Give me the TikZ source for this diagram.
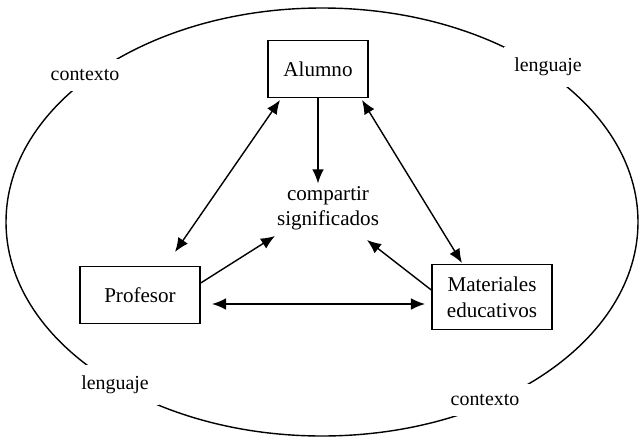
\documentclass[tikz,border=0pt]{standalone}
\usepackage{fontspec}
\setmainfont{Liberation Serif}
\usetikzlibrary{arrows.meta}
\begin{document}
\begin{tikzpicture}[x=0.03cm,y=-0.03cm,line width=1.2pt,
  box/.style={draw,minimum height=1.7cm,font=\fontsize{18}{20}\selectfont},
  lab/.style={fill=white,inner sep=9pt,font=\fontsize{17}{19}\selectfont},
  arr/.style={-{Latex[length=12pt,width=10pt]}},
  darr/.style={{Latex[length=12pt,width=10pt]}-{Latex[length=12pt,width=10pt]}}]
\useasboundingbox (0,0) rectangle (640,443);
\draw (322,222) ellipse [x radius=316, y radius=214];
\node[lab] (c1) at (85,75) {contexto};
\node[lab] (l1) at (548,67) {lenguaje};
\node[lab] (l2) at (115,385) {lenguaje};
\node[lab] (c2) at (485,400) {contexto};
\node[box,minimum width=3cm] (a) at (318,69) {Alumno};
\node[box,minimum width=3.6cm] (p) at (140,295) {Profesor};
\node[box,minimum width=3.6cm,minimum height=1.95cm,align=center,font=\fontsize{18}{22}\selectfont] (m) at (492,297) {Materiales\\educativos};
\node[align=center,font=\fontsize{18}{21}\selectfont,inner sep=2pt] (s) at (328,208) {compartir\\significados};
\draw[arr] (a.south) -- (s.north -| a.south);
\draw[darr] (280,100) -- (175,252);
\draw[darr] (362,100) -- (462,263);
\draw[arr] (p.east |- 0,283) -- (275,236);
\draw[arr] (m.west |- 0,290) -- (367,240);
\draw[darr] (212,304) -- (425,304);
\end{tikzpicture}
\end{document}
